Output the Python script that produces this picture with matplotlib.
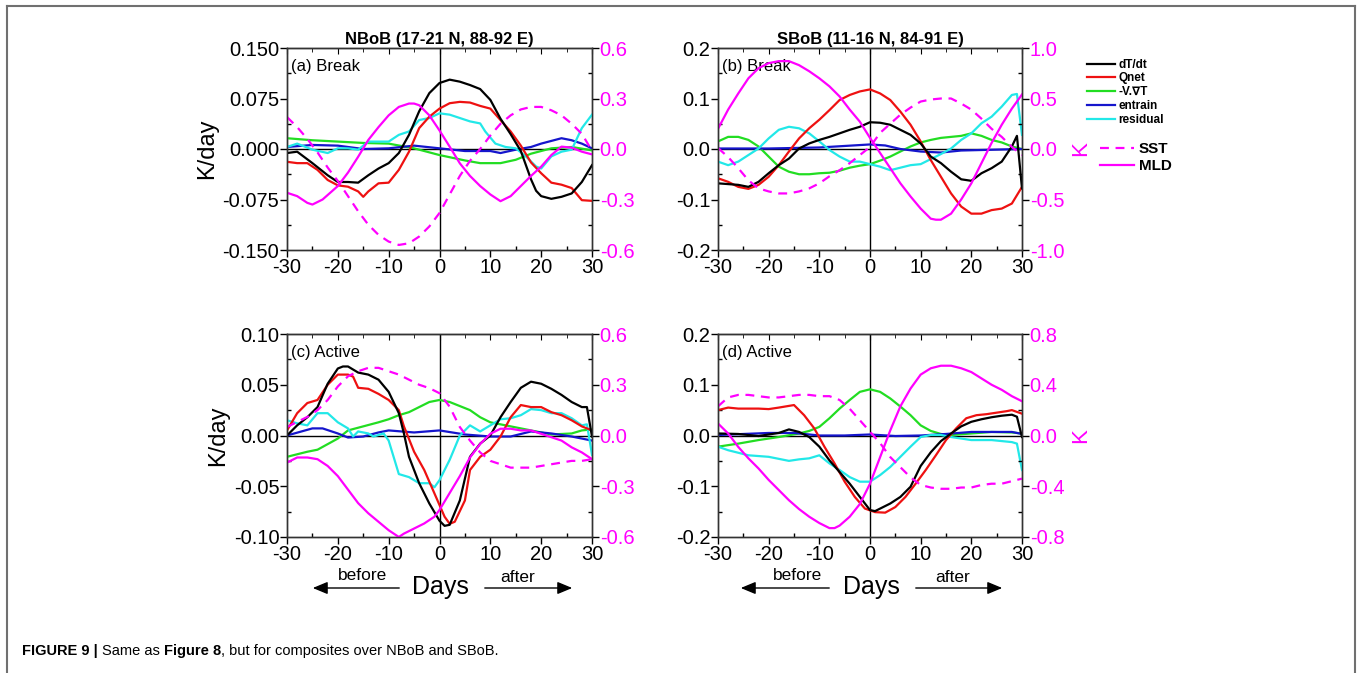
import matplotlib
matplotlib.use("Agg")
import matplotlib.pyplot as plt
from matplotlib.lines import Line2D
from matplotlib.ticker import MultipleLocator, FormatStrFormatter
import matplotlib.patches as mpatches

plt.rcParams['font.family'] = ['Liberation Sans', 'DejaVu Sans']
plt.rcParams['axes.unicode_minus'] = False

# ---------------- data ----------------
# Panel (a) NBoB Break
a_dTdt_d = [-30,-28,-25,-22,-20,-18,-16,-14,-12,-10,-8,-6,-4,-2,0,2,4,6,8,10,12,14,16,18,19,20,22,24,26,28,30]
a_dTdt = [-0.006,-0.004,-0.021,-0.039,-0.049,-0.049,-0.050,-0.039,-0.029,-0.021,-0.006,0.021,0.056,0.083,0.098,0.103,0.100,0.095,0.089,0.073,0.045,0.022,-0.003,-0.045,-0.062,-0.070,-0.074,-0.071,-0.066,-0.049,-0.024]
a_qnet_d = [-30,-28,-26,-24,-22,-20,-18,-16,-15,-14,-12,-10,-8,-6,-4,-2,0,2,4,6,8,10,12,14,16,18,20,22,24,26,28,30]
a_qnet = [-0.019,-0.021,-0.021,-0.031,-0.046,-0.054,-0.056,-0.063,-0.071,-0.063,-0.051,-0.050,-0.031,-0.004,0.031,0.048,0.060,0.068,0.070,0.069,0.064,0.060,0.043,0.026,0.005,-0.020,-0.036,-0.050,-0.053,-0.058,-0.076,-0.077]
a_adv_d = [-30,-25,-20,-15,-10,-5,0,5,8,12,15,18,22,26,30]
a_adv = [0.016,0.013,0.011,0.009,0.008,0.001,-0.009,-0.017,-0.021,-0.021,-0.016,-0.007,0.001,0.003,-0.002]
a_ent_d = [-30,-25,-20,-15,-10,-5,0,5,10,12,15,18,20,24,26,28,30]
a_ent = [0.003,0.006,0.005,0.0,0.001,0.005,0.001,-0.003,-0.003,-0.006,-0.001,0.003,0.008,0.016,0.013,0.008,0.001]
a_res_d = [-30,-28,-25,-22,-20,-18,-16,-14,-12,-10,-8,-6,-4,-2,0,2,4,6,8,9,11,13,15,17,19,20,22,24,26,28,30]
a_res = [0.003,0.008,-0.001,-0.006,0.001,0.001,-0.001,0.011,0.011,0.011,0.021,0.026,0.043,0.046,0.053,0.051,0.046,0.041,0.038,0.026,0.008,0.003,0.001,-0.011,-0.026,-0.029,-0.011,-0.004,-0.001,0.031,0.051]
a_sst_d = [-30,-28,-26,-24,-22,-20,-18,-16,-14,-12,-10,-8,-6,-4,-2,0,2,4,6,8,10,12,14,16,18,20,22,24,26,28,30]
a_sst = [0.19,0.13,0.06,-0.02,-0.11,-0.19,-0.28,-0.37,-0.45,-0.51,-0.55,-0.57,-0.56,-0.52,-0.46,-0.38,-0.27,-0.16,-0.07,0.0,0.08,0.15,0.20,0.235,0.25,0.25,0.23,0.20,0.15,0.09,-0.01]
a_mld_d = [-30,-28,-26,-25,-23,-20,-18,-16,-14,-12,-10,-8,-6,-5,-4,-2,0,2,4,6,8,10,12,14,16,18,20,22,24,26,28,30]
a_mld = [-0.26,-0.28,-0.32,-0.33,-0.30,-0.22,-0.14,-0.046,0.054,0.13,0.20,0.25,0.27,0.27,0.26,0.20,0.11,0.014,-0.085,-0.16,-0.22,-0.27,-0.31,-0.28,-0.22,-0.16,-0.105,-0.036,0.014,0.008,-0.016,-0.032]

# Panel (b) SBoB Break
b_dTdt_d = [-30,-26,-24,-22,-20,-18,-16,-14,-12,-10,-8,-6,-4,-2,0,2,4,6,8,10,12,14,16,18,20,22,24,26,28,29,30]
b_dTdt = [-0.068,-0.071,-0.075,-0.065,-0.048,-0.032,-0.019,0.001,0.011,0.018,0.024,0.031,0.038,0.044,0.053,0.052,0.048,0.038,0.028,0.011,-0.015,-0.028,-0.045,-0.060,-0.063,-0.048,-0.038,-0.025,0.005,0.026,-0.078]
b_qnet_d = [-30,-28,-26,-24,-22,-20,-18,-16,-14,-12,-10,-8,-6,-4,-2,0,2,4,6,8,10,12,14,16,18,20,22,24,26,28,30]
b_qnet = [-0.058,-0.065,-0.075,-0.079,-0.071,-0.055,-0.032,-0.005,0.021,0.041,0.058,0.077,0.097,0.107,0.114,0.118,0.110,0.097,0.074,0.048,0.015,-0.022,-0.055,-0.088,-0.114,-0.128,-0.128,-0.121,-0.118,-0.108,-0.075]
b_adv_d = [-30,-28,-26,-24,-22,-20,-18,-16,-14,-12,-10,-8,-6,-4,-2,0,2,4,6,8,10,12,14,16,18,20,22,24,26,28,30]
b_adv = [0.015,0.024,0.024,0.018,0.005,-0.015,-0.035,-0.045,-0.050,-0.050,-0.048,-0.047,-0.043,-0.037,-0.033,-0.030,-0.023,-0.015,-0.005,0.005,0.013,0.018,0.022,0.024,0.026,0.031,0.026,0.018,0.013,0.005,0.0]
b_ent_d = [-30,-20,-10,-5,0,3,6,10,14,18,22,26,30]
b_ent = [0.001,0.001,0.003,0.006,0.009,0.007,0.0,-0.005,-0.007,-0.003,-0.002,-0.001,0.0]
b_res_d = [-30,-28,-26,-24,-22,-20,-18,-16,-14,-12,-10,-8,-6,-4,-2,0,2,4,6,8,10,12,14,16,18,20,22,24,26,28,29,30]
b_res = [-0.025,-0.032,-0.025,-0.012,0.001,0.021,0.038,0.044,0.041,0.031,0.015,-0.002,-0.015,-0.025,-0.025,-0.030,-0.035,-0.042,-0.037,-0.032,-0.030,-0.020,-0.010,0.001,0.018,0.031,0.051,0.064,0.084,0.107,0.109,0.028]
b_sst_d = [-30,-28,-26,-24,-22,-20,-18,-16,-14,-12,-10,-8,-6,-4,-2,0,2,4,6,8,10,12,14,16,18,20,22,24,26,28,30]
b_sst = [0.01,-0.08,-0.19,-0.31,-0.39,-0.42,-0.44,-0.44,-0.42,-0.39,-0.34,-0.27,-0.21,-0.14,-0.06,0.02,0.16,0.25,0.34,0.41,0.47,0.49,0.50,0.50,0.45,0.39,0.30,0.20,0.12,0.02,-0.06]
b_mld_d = [-30,-28,-26,-24,-22,-20,-18,-16,-14,-12,-10,-8,-6,-4,-2,0,2,4,6,8,10,12,13,14,16,18,20,22,24,26,28,30]
b_mld = [0.20,0.39,0.55,0.70,0.80,0.85,0.87,0.87,0.83,0.77,0.70,0.62,0.52,0.39,0.27,0.11,-0.04,-0.19,-0.34,-0.47,-0.59,-0.69,-0.70,-0.70,-0.64,-0.50,-0.34,-0.14,0.06,0.24,0.40,0.54]

# Panel (c) NBoB Active
c_dTdt_d = [-30,-28,-26,-24,-22,-20,-19,-18,-16,-14,-12,-10,-8,-7,-6,-4,-2,0,1,2,4,6,8,10,12,14,16,18,20,22,24,26,28,29,30]
c_dTdt = [0.0,0.010,0.018,0.028,0.051,0.066,0.068,0.068,0.062,0.060,0.055,0.043,0.022,0.002,-0.021,-0.047,-0.067,-0.084,-0.089,-0.088,-0.064,-0.021,-0.008,0.0,0.018,0.033,0.047,0.053,0.051,0.046,0.040,0.033,0.028,0.028,-0.001]
c_qnet_d = [-30,-28,-26,-24,-22,-20,-18,-17,-16,-14,-12,-10,-8,-7,-5,-3,-1,1,2,3,5,6,8,10,12,14,16,18,20,22,24,26,28,30]
c_qnet = [0.005,0.022,0.032,0.035,0.050,0.060,0.060,0.058,0.047,0.046,0.041,0.035,0.025,0.009,-0.016,-0.034,-0.057,-0.080,-0.087,-0.085,-0.064,-0.034,-0.021,-0.014,-0.001,0.018,0.030,0.028,0.028,0.023,0.020,0.015,0.009,0.005]
c_adv_d = [-30,-26,-24,-20,-18,-15,-12,-10,-8,-6,-4,-2,0,2,4,6,8,10,12,14,16,18,22,26,28,30]
c_adv = [-0.021,-0.016,-0.014,-0.003,0.005,0.009,0.013,0.016,0.020,0.023,0.028,0.033,0.035,0.033,0.029,0.025,0.018,0.013,0.011,0.009,0.007,0.005,0.001,0.002,0.005,0.006]
c_ent_d = [-30,-25,-23,-20,-18,-15,-12,-10,-5,0,5,10,14,18,22,26,30]
c_ent = [0.0,0.007,0.007,0.002,-0.002,-0.001,0.003,0.005,0.003,0.005,0.001,-0.001,-0.001,0.004,0.002,-0.001,-0.005]
c_res_d = [-30,-28,-26,-24,-22,-20,-18,-17,-16,-14,-13,-11,-10,-8,-6,-4,-2,-1,0,2,4,6,8,10,12,14,16,18,20,22,24,26,28,29,30]
c_res = [0.015,0.012,0.010,0.022,0.022,0.013,0.007,-0.001,0.004,0.002,-0.001,0.002,-0.005,-0.038,-0.041,-0.047,-0.047,-0.051,-0.044,-0.024,0.0,0.010,0.004,0.010,0.016,0.017,0.020,0.026,0.025,0.022,0.022,0.017,0.010,0.011,-0.019]
c_sst_d = [-30,-28,-26,-24,-22,-20,-18,-16,-14,-12,-10,-8,-6,-4,-2,0,2,4,6,8,10,12,14,16,18,20,22,24,26,28,30]
c_sst = [0.05,0.08,0.11,0.15,0.21,0.29,0.35,0.38,0.40,0.40,0.38,0.36,0.33,0.30,0.28,0.25,0.17,0.05,-0.03,-0.10,-0.15,-0.17,-0.19,-0.19,-0.19,-0.18,-0.17,-0.16,-0.15,-0.15,-0.14]
c_mld_d = [-30,-28,-26,-24,-22,-20,-18,-16,-14,-12,-10,-8,-7,-5,-3,-1,0,2,4,6,8,10,12,14,16,18,20,22,24,26,28,30]
c_mld = [-0.16,-0.13,-0.13,-0.14,-0.18,-0.24,-0.32,-0.40,-0.46,-0.51,-0.56,-0.60,-0.58,-0.55,-0.52,-0.48,-0.44,-0.34,-0.24,-0.13,-0.05,0.01,0.04,0.04,0.03,0.03,0.01,-0.01,-0.03,-0.07,-0.10,-0.14]

# Panel (d) SBoB Active
d_dTdt_d = [-30,-26,-22,-18,-16,-14,-12,-10,-8,-6,-4,-2,0,1,2,4,6,8,10,12,14,16,18,20,22,24,26,28,29,30]
d_dTdt = [0.004,0.003,-0.001,0.005,0.012,0.007,-0.003,-0.022,-0.049,-0.072,-0.095,-0.121,-0.147,-0.149,-0.144,-0.134,-0.121,-0.101,-0.060,-0.033,-0.011,0.004,0.018,0.027,0.032,0.036,0.039,0.041,0.037,-0.003]
d_qnet_d = [-30,-28,-26,-22,-20,-18,-15,-13,-11,-9,-7,-5,-3,-1,1,3,5,7,9,11,13,15,17,19,21,23,25,27,28,30]
d_qnet = [0.050,0.055,0.053,0.053,0.052,0.055,0.060,0.040,0.014,-0.022,-0.055,-0.091,-0.121,-0.144,-0.151,-0.152,-0.141,-0.121,-0.095,-0.068,-0.039,-0.009,0.014,0.034,0.040,0.042,0.045,0.048,0.050,0.043]
d_adv_d = [-30,-26,-22,-18,-14,-12,-10,-8,-6,-4,-2,0,2,4,6,8,10,12,14,16,20,24,28,30]
d_adv = [-0.022,-0.016,-0.009,-0.003,0.004,0.009,0.017,0.034,0.053,0.070,0.086,0.091,0.086,0.073,0.057,0.040,0.020,0.009,0.003,0.001,0.004,0.007,0.006,0.004]
d_ent_d = [-30,-20,-15,-10,-5,0,5,10,15,20,25,28,30]
d_ent = [0.001,0.005,0.005,0.0,0.0,0.002,-0.001,0.0,0.003,0.007,0.007,0.007,0.003]
d_res_d = [-30,-28,-24,-20,-16,-14,-12,-10,-8,-6,-4,-2,0,2,4,6,8,10,12,14,16,18,20,24,28,29,30]
d_res = [-0.022,-0.029,-0.039,-0.042,-0.050,-0.047,-0.045,-0.039,-0.055,-0.068,-0.082,-0.091,-0.091,-0.078,-0.062,-0.042,-0.022,-0.003,0.001,0.001,-0.003,-0.006,-0.009,-0.009,-0.013,-0.016,-0.068]
d_sst_d = [-30,-28,-26,-24,-22,-20,-18,-16,-14,-12,-10,-8,-6,-4,-2,0,2,4,6,8,10,12,14,16,18,20,22,24,26,28,30]
d_sst = [0.23,0.30,0.32,0.32,0.31,0.30,0.30,0.31,0.32,0.32,0.31,0.31,0.28,0.21,0.12,0.03,-0.06,-0.17,-0.25,-0.33,-0.39,-0.41,-0.42,-0.42,-0.41,-0.41,-0.39,-0.38,-0.38,-0.36,-0.34]
d_mld_d = [-30,-28,-26,-24,-22,-20,-18,-16,-14,-12,-10,-8,-7,-6,-4,-2,0,2,4,6,8,10,12,14,16,18,20,22,24,26,28,30]
d_mld = [0.095,0.016,-0.09,-0.18,-0.26,-0.35,-0.43,-0.51,-0.58,-0.64,-0.69,-0.73,-0.73,-0.71,-0.64,-0.54,-0.38,-0.17,0.04,0.23,0.37,0.48,0.53,0.55,0.55,0.53,0.50,0.45,0.40,0.36,0.31,0.27]

legend_labels = ['dT/dt', 'Qnet', '-V.\u2207T', 'entrain', 'residual']
sst_label, mld_label = 'SST', 'MLD'
titles = ['NBoB (17-21 N, 88-92 E)', 'SBoB (11-16 N, 84-91 E)']
panel_labels = ['(a) Break', '(b) Break', '(c) Active', '(d) Active']

# ---------------- style ----------------
C_BLACK = '#000000'
C_RED = '#ee1111'
C_GREEN = '#22dd22'
C_BLUE = '#1515cc'
C_CYAN = '#22e8e8'
C_MAG = '#ff00ff'
LW = 1.6
TICK_FS = 14.5

W, H = 1357, 673
fig = plt.figure(figsize=(W / 100, H / 100), dpi=100)

def px_axes(x0, y0, x1, y1):
    return fig.add_axes([x0 / W, 1 - y1 / H, (x1 - x0) / W, (y1 - y0) / H])

panels = [
    dict(box=(287, 48, 592, 250), ylim=(-0.15, 0.15), ymaj=0.075, ymin=0.0375, yfmt='%.3f',
         rlim=(-0.6, 0.6), rmaj=0.3, rmin=0.15, rfmt='%.1f', ylabel='K/day', rlabel=None,
         data=(a_dTdt_d, a_dTdt, a_qnet_d, a_qnet, a_adv_d, a_adv, a_ent_d, a_ent, a_res_d, a_res,
               a_sst_d, a_sst, a_mld_d, a_mld)),
    dict(box=(718, 48, 1022, 250), ylim=(-0.2, 0.2), ymaj=0.1, ymin=0.05, yfmt='%.1f',
         rlim=(-1.0, 1.0), rmaj=0.5, rmin=0.25, rfmt='%.1f', ylabel=None, rlabel='K',
         data=(b_dTdt_d, b_dTdt, b_qnet_d, b_qnet, b_adv_d, b_adv, b_ent_d, b_ent, b_res_d, b_res,
               b_sst_d, b_sst, b_mld_d, b_mld)),
    dict(box=(287, 334, 592, 537), ylim=(-0.1, 0.1), ymaj=0.05, ymin=0.025, yfmt='%.2f',
         rlim=(-0.6, 0.6), rmaj=0.3, rmin=0.15, rfmt='%.1f', ylabel='K/day', rlabel=None,
         data=(c_dTdt_d, c_dTdt, c_qnet_d, c_qnet, c_adv_d, c_adv, c_ent_d, c_ent, c_res_d, c_res,
               c_sst_d, c_sst, c_mld_d, c_mld)),
    dict(box=(718, 334, 1022, 537), ylim=(-0.2, 0.2), ymaj=0.1, ymin=0.05, yfmt='%.1f',
         rlim=(-0.8, 0.8), rmaj=0.4, rmin=0.2, rfmt='%.1f', ylabel=None, rlabel='K',
         data=(d_dTdt_d, d_dTdt, d_qnet_d, d_qnet, d_adv_d, d_adv, d_ent_d, d_ent, d_res_d, d_res,
               d_sst_d, d_sst, d_mld_d, d_mld)),
]

handles = None
for i, p in enumerate(panels):
    ax = px_axes(*p['box'])
    axr = ax.twinx()
    (d1, v1, d2, v2, d3, v3, d4, v4, d5, v5, d6, v6, d7, v7) = p['data']
    ax.axhline(0, color='black', lw=1.0, zorder=1)
    ax.axvline(0, color='black', lw=1.0, zorder=1)
    l1, = ax.plot(d1, v1, color=C_BLACK, lw=LW, zorder=5)
    l2, = ax.plot(d2, v2, color=C_RED, lw=LW, zorder=4)
    l3, = ax.plot(d3, v3, color=C_GREEN, lw=LW, zorder=3)
    l4, = ax.plot(d4, v4, color=C_BLUE, lw=LW, zorder=3)
    l5, = ax.plot(d5, v5, color=C_CYAN, lw=LW, zorder=3)
    l6, = axr.plot(d6, v6, color=C_MAG, lw=LW, ls=(0, (4, 3)))
    l7, = axr.plot(d7, v7, color=C_MAG, lw=LW)
    if handles is None:
        handles = [l1, l2, l3, l4, l5, l6, l7]
    ax.set_xlim(-30, 30)
    ax.set_ylim(*p['ylim'])
    axr.set_ylim(*p['rlim'])
    ax.xaxis.set_major_locator(MultipleLocator(10))
    ax.xaxis.set_minor_locator(MultipleLocator(5))
    ax.yaxis.set_major_locator(MultipleLocator(p['ymaj']))
    ax.yaxis.set_minor_locator(MultipleLocator(p['ymin']))
    ax.yaxis.set_major_formatter(FormatStrFormatter(p['yfmt']))
    axr.yaxis.set_major_locator(MultipleLocator(p['rmaj']))
    axr.yaxis.set_minor_locator(MultipleLocator(p['rmin']))
    axr.yaxis.set_major_formatter(FormatStrFormatter(p['rfmt']))
    ax.tick_params(axis='both', which='major', direction='out', length=5, width=1,
                   labelsize=TICK_FS, pad=0.5)
    ax.tick_params(axis='both', which='minor', direction='in', length=3, width=1)
    axr.tick_params(axis='y', which='major', direction='out', length=5, width=1,
                    labelsize=TICK_FS, labelcolor=C_MAG, pad=0.5)
    axr.tick_params(axis='y', which='minor', direction='in', length=3, width=1)
    sec = ax.secondary_xaxis('top')
    sec.xaxis.set_major_locator(MultipleLocator(10))
    sec.xaxis.set_minor_locator(MultipleLocator(5))
    sec.tick_params(which='major', direction='in', length=4, labeltop=False)
    sec.tick_params(which='minor', direction='in', length=3)
    for ax_ in (ax, axr):
        for s in ax_.spines.values():
            s.set_linewidth(1.0)
            s.set_color('#333333')
    if p['ylabel']:
        ax.set_ylabel(p['ylabel'], fontsize=17, labelpad=3)
    if p['rlabel']:
        axr.set_ylabel(p['rlabel'], fontsize=16, color=C_MAG, rotation=90, labelpad=4)
    ax.text(0.012, 0.945, panel_labels[i], transform=ax.transAxes, fontsize=12,
            ha='left', va='top')
    if i < 2:
        ax.set_title(titles[i], fontsize=12, fontweight='bold', pad=3)

# ---------------- legends ----------------
leg1 = fig.legend(handles[:5], legend_labels, loc='upper left',
                  bbox_to_anchor=(1082 / W, 1 - 54 / H), frameon=False,
                  prop=dict(size=8.5, weight='bold'), handlelength=2.4,
                  handletextpad=0.3, labelspacing=0.15, borderaxespad=0)
leg2 = fig.legend(handles[5:], [sst_label, mld_label], loc='upper left',
                  bbox_to_anchor=(1094 / W, 1 - 136 / H), frameon=False,
                  prop=dict(size=11, weight='bold'), handlelength=2.2,
                  handletextpad=0.35, labelspacing=0.2, borderaxespad=0)

# ---------------- bottom annotations ----------------
def arrow(x0, x1, y):
    fig.add_artist(mpatches.FancyArrowPatch(
        (x0 / W, 1 - y / H), (x1 / W, 1 - y / H), transform=fig.transFigure,
        arrowstyle='-|>,head_length=6,head_width=2.5', color='black', lw=1.0,
        mutation_scale=1.5))

for (bx, dx, ax_, ba0, ba1, aa0, aa1) in [(363, 440, 518, 402, 310, 482, 575),
                                          (798, 871, 953, 832, 738, 913, 1005)]:
    fig.text(bx / W, 1 - 575 / H, 'before', fontsize=12.5, ha='center', va='center')
    fig.text(dx / W, 1 - 587 / H, 'Days', fontsize=18, ha='center', va='center')
    fig.text(ax_ / W, 1 - 577 / H, 'after', fontsize=12.5, ha='center', va='center')
    arrow(ba0, ba1, 588)
    arrow(aa0, aa1, 588)

# ---------------- frame ----------------
fc = '#707070'
fig.add_artist(Line2D([7 / W, 7 / W], [0, 1 - 6 / H], color=fc, lw=1.5, transform=fig.transFigure))
fig.add_artist(Line2D([7 / W, 1355 / W], [1 - 6 / H, 1 - 6 / H], color=fc, lw=1.5, transform=fig.transFigure))
fig.add_artist(Line2D([1355 / W, 1355 / W], [0, 1 - 6 / H], color=fc, lw=1.5, transform=fig.transFigure))

# ---------------- caption ----------------
cap_parts = [('FIGURE 9 | ', 'bold'), ('Same as ', 'normal'), ('Figure 8', 'bold'),
             (', but for composites over NBoB and SBoB.', 'normal')]
renderer = fig.canvas.get_renderer()
x = 22 / W
for s, wgt in cap_parts:
    t = fig.text(x, 1 - 651 / H, s, fontsize=10.5, fontweight=wgt, ha='left', va='center',
                 family=['Liberation Sans Narrow', 'Liberation Sans'])
    bb = t.get_window_extent(renderer=renderer)
    x += bb.width / W

fig.savefig('out.png', dpi=100)
